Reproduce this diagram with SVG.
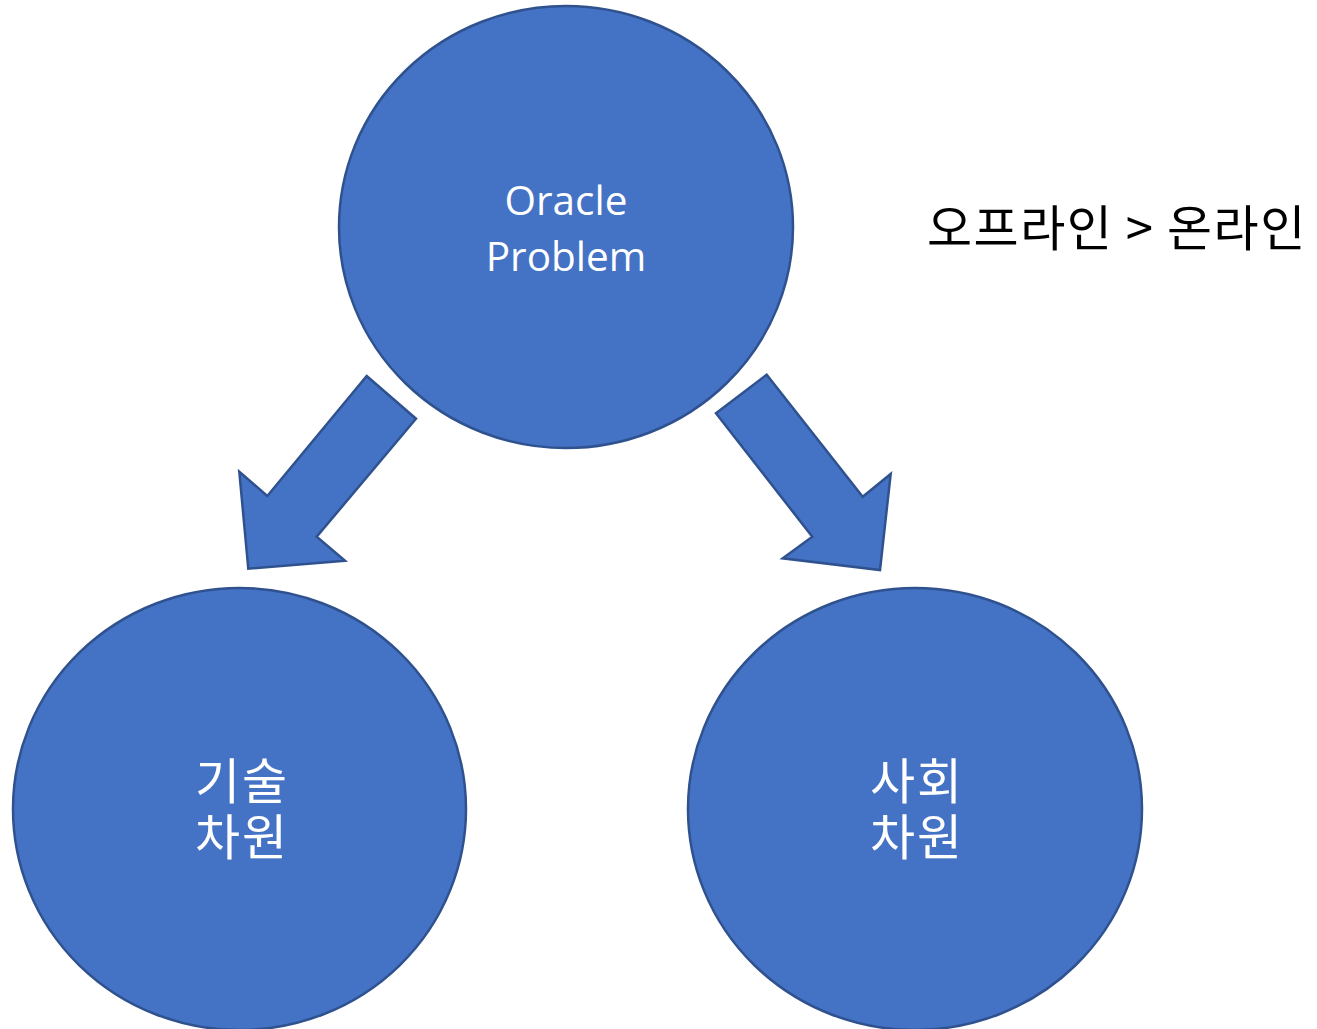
<svg xmlns="http://www.w3.org/2000/svg" width="1317" height="1029" viewBox="0 0 1317 1029">
<style>
.shape{fill:#4472C4;stroke:#2F528F;stroke-width:2.5}
.lbl{fill:#FFFFFF;font-family:"Open Sans","Noto Sans CJK KR",sans-serif;text-anchor:middle}
.kr{font-family:"Noto Sans CJK KR","Open Sans",sans-serif;font-size:49px}
.kl{letter-spacing:2px}
</style>
<rect width="1317" height="1029" fill="#FFFFFF"/>
<g id="connectors">
<polygon class="shape" points="366.7,376 416,418.7 316.7,536.7 345,560.7 248.3,568.7 239.3,471.7 267.3,496"/>
<polygon class="shape" points="766.7,374.7 716,413.3 812.3,536.7 782.7,558.3 880,570 890.7,474 862.7,496.7"/>
</g>
<g id="oracle">
<ellipse class="shape" cx="566" cy="227" rx="227" ry="221"/>
<text class="lbl" x="566" y="215" font-size="40.5">Oracle</text>
<text class="lbl" x="566" y="271" font-size="40.5">Problem</text>
</g>
<g id="tech">
<ellipse class="shape" cx="239.5" cy="809" rx="226.5" ry="221"/>
<text class="lbl kr kl" x="242" y="799">기술</text>
<text class="lbl kr kl" x="242" y="855">차원</text>
</g>
<g id="social">
<ellipse class="shape" cx="915" cy="809" rx="227" ry="221"/>
<text class="lbl kr kl" x="917" y="799">사회</text>
<text class="lbl kr kl" x="917" y="855">차원</text>
</g>
<g id="note">
<text class="kr" x="927" y="246" fill="#000000" letter-spacing="1.5">오프라인 &gt; 온라인</text>
</g>
</svg>
